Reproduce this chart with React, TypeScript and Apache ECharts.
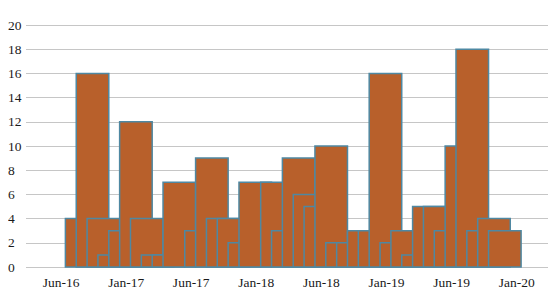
import React, { useEffect, useRef } from "react";
import * as echarts from "echarts";

// Monthly counts, one bar per month starting Jul-16 (index 0), each bar spanning 3 months
const counts = [
  4, 16, 4, 1, 3, 12, 4, 1, 1, 7,
  0, 3, 9, 4, 4, 2, 7, 0, 7, 3,
  9, 6, 5, 10, 2, 2, 3, 3, 16, 2,
  3, 1, 5, 5, 3, 10, 18, 3, 4, 3,
];
const xTickValues = [0, 6, 12, 18, 24, 30, 36, 42];
const xTickLabels = ["Jun-16", "Jan-17", "Jun-17", "Jan-18", "Jun-18", "Jan-19", "Jun-19", "Jan-20"];
const yTickValues = [0, 2, 4, 6, 8, 10, 12, 14, 16, 18, 20];
const barOffset = 0.4; // months after tick position
const barSpan = 3; // months

const FONT_CSS = "13.5px 'Liberation Serif', serif";
const TEXT_COLOR = "#1a1a1a";

export default function App() {
  const ref = useRef<HTMLDivElement>(null);
  useEffect(() => {
    if (!ref.current) return;
    const chart = echarts.init(ref.current, null, { renderer: "svg" });
    const data = counts.map((v, i) => [i, v]);
    chart.setOption({
      animation: false,
      backgroundColor: "#ffffff",
      grid: { left: 26, right: 10, top: 25, bottom: 28, containLabel: false },
      xAxis: {
        type: "value",
        min: -3.23,
        max: 44.88,
        axisLine: { show: false },
        axisTick: { show: false },
        splitLine: { show: false },
        axisLabel: { show: false },
      },
      yAxis: {
        type: "value",
        min: 0,
        max: 20,
        interval: 2,
        axisLine: { show: false },
        axisTick: { show: false },
        splitLine: { lineStyle: { color: "#C6C6C6", width: 1 } },
        axisLabel: { show: false },
      },
      series: [
        {
          type: "custom",
          data,
          encode: { x: 0, y: 1 },
          renderItem: (params: any, api: any) => {
            const k = api.value(0);
            const v = api.value(1);
            if (!v) return null;
            const p0 = api.coord([k + barOffset, 0]);
            const p1 = api.coord([k + barOffset + barSpan, v]);
            return {
              type: "rect",
              shape: { x: p0[0], y: p1[1], width: p1[0] - p0[0], height: p0[1] - p1[1] },
              style: { fill: "#B8602B", stroke: "#4E88A2", lineWidth: 1.5 },
            };
          },
        },
      ],
    });

    const graphics: any[] = [];
    yTickValues.forEach((v) => {
      const p = chart.convertToPixel({ gridIndex: 0 }, [0, v]) as number[];
      graphics.push({
        type: "text",
        x: 8,
        y: p[1],
        style: {
          text: String(v),
          font: FONT_CSS,
          fill: TEXT_COLOR,
          align: "left",
          verticalAlign: "middle",
          textAlign: "left",
          textVerticalAlign: "middle",
        },
      });
    });
    xTickValues.forEach((v, i) => {
      const p = chart.convertToPixel({ gridIndex: 0 }, [v, 0]) as number[];
      graphics.push({
        type: "text",
        x: p[0],
        y: p[1] + 8,
        style: {
          text: xTickLabels[i],
          font: FONT_CSS,
          fill: TEXT_COLOR,
          align: "center",
          verticalAlign: "top",
          textAlign: "center",
          textVerticalAlign: "top",
        },
      });
    });
    chart.setOption({ graphic: graphics });

    return () => chart.dispose();
  }, []);
  return <div ref={ref} style={{ width: 558, height: 295, margin: -8 }} />;
}
